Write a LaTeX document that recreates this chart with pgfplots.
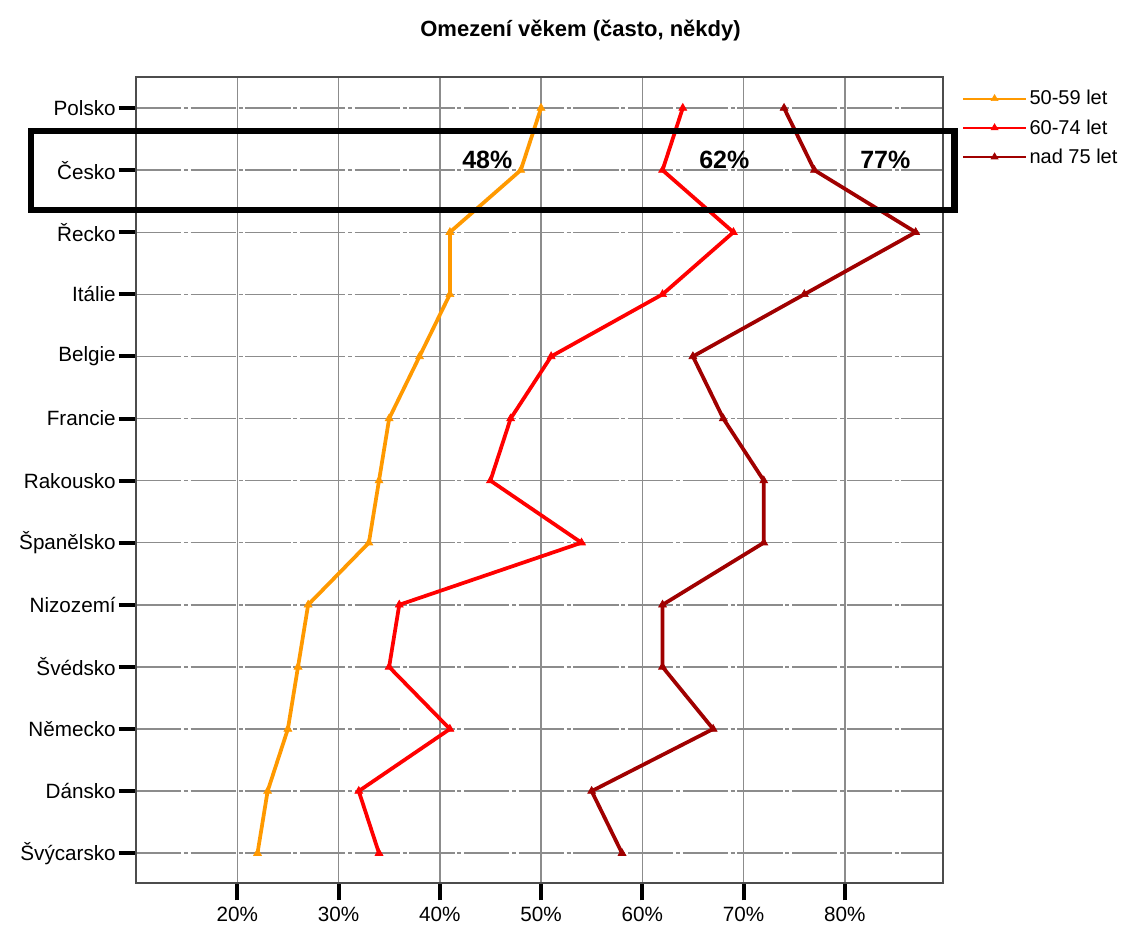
\documentclass[border=0pt]{standalone}
\usepackage{pgfplots}
\pgfplotsset{compat=1.18}
\usepackage{fontspec}
\setmainfont{Liberation Sans}

\definecolor{cOrange}{RGB}{255,153,0}
\definecolor{cRed}{RGB}{255,0,0}
\definecolor{cDark}{RGB}{160,0,0}
\definecolor{cGrid}{RGB}{140,140,140}

\begin{document}
\begin{tikzpicture}
% page frame (1px = 0.75pt)
\path[use as bounding box] (0,0) rectangle (841.5pt,695.25pt);

\node[font=\fontsize{16.5}{19}\selectfont\bfseries] at (435.4pt,672pt)
  {Omezení věkem (často, někdy)};

\begin{axis}[
  at={(102pt,33pt)}, anchor=south west,
  scale only axis,
  width=605.25pt, height=604.5pt,
  xmin=10, xmax=89.7,
  ymin=-0.5, ymax=12.48,
  y dir=reverse,
  xtick={20,30,40,50,60,70,80},
  xticklabels={20\%,30\%,40\%,50\%,60\%,70\%,80\%},
  ytick={0,...,12},
  yticklabels={Polsko,Česko,Řecko,Itálie,Belgie,Francie,Rakousko,Španělsko,Nizozemí,Švédsko,Německo,Dánsko,Švýcarsko},
  xtick pos=bottom, ytick pos=left,
  tick align=outside,
  major tick length=13pt,
  tick style={black, line width=3pt},
  ticklabel style={font=\fontsize{15.5}{18}\selectfont},
  yticklabel style={inner xsep=2pt},
  xticklabel style={inner ysep=5pt},
  axis line style={black!70, line width=1.2pt},
  xmajorgrids, ymajorgrids,
  x grid style={cGrid, line width=1.1pt},
  y grid style={cGrid, line width=1.1pt, dash pattern=on 34pt off 2pt on 3pt off 2pt},
  clip=false,
  legend style={at={(1.0235,0.987)}, anchor=north west, draw=none, fill=none,
    inner sep=0pt, row sep=5.5pt, font=\fontsize{15}{17}\selectfont,
    cells={anchor=west}},
  legend image code/.code={%
    \draw[line width=1.5pt, mark repeat=2, mark phase=2, mark size=3pt]
      plot coordinates {(0pt,0pt) (23.5pt,0pt) (47pt,0pt)};},
]

\addplot[cOrange, line width=2.8pt, mark=triangle*, mark size=3.4pt,
  mark options={line width=0.5pt}] coordinates {
  (50,0) (48,1) (41,2) (41,3) (38,4) (35,5) (34,6) (33,7)
  (27,8) (26,9) (25,10) (23,11) (22,12)};
\addlegendentry{50-59 let}

\addplot[cRed, line width=2.8pt, mark=triangle*, mark size=3.4pt,
  mark options={line width=0.5pt}] coordinates {
  (64,0) (62,1) (69,2) (62,3) (51,4) (47,5) (45,6) (54,7)
  (36,8) (35,9) (41,10) (32,11) (34,12)};
\addlegendentry{60-74 let}

\addplot[cDark, line width=2.8pt, mark=triangle*, mark size=3.4pt,
  mark options={line width=0.5pt}] coordinates {
  (74,0) (77,1) (87,2) (76,3) (65,4) (68,5) (72,6) (72,7)
  (62,8) (62,9) (67,10) (55,11) (58,12)};
\addlegendentry{nad 75 let}

% highlight frame around the Czech row
\draw[black, line width=4.6pt] (axis cs:-0.38,0.365) rectangle (axis cs:90.83,1.635);
\node[font=\fontsize{18.75}{21}\selectfont\bfseries] at (axis cs:44.7,0.83) {48\%};
\node[font=\fontsize{18.75}{21}\selectfont\bfseries] at (axis cs:68.1,0.83) {62\%};
\node[font=\fontsize{18.75}{21}\selectfont\bfseries] at (axis cs:84.0,0.83) {77\%};
\end{axis}
\end{tikzpicture}
\end{document}
